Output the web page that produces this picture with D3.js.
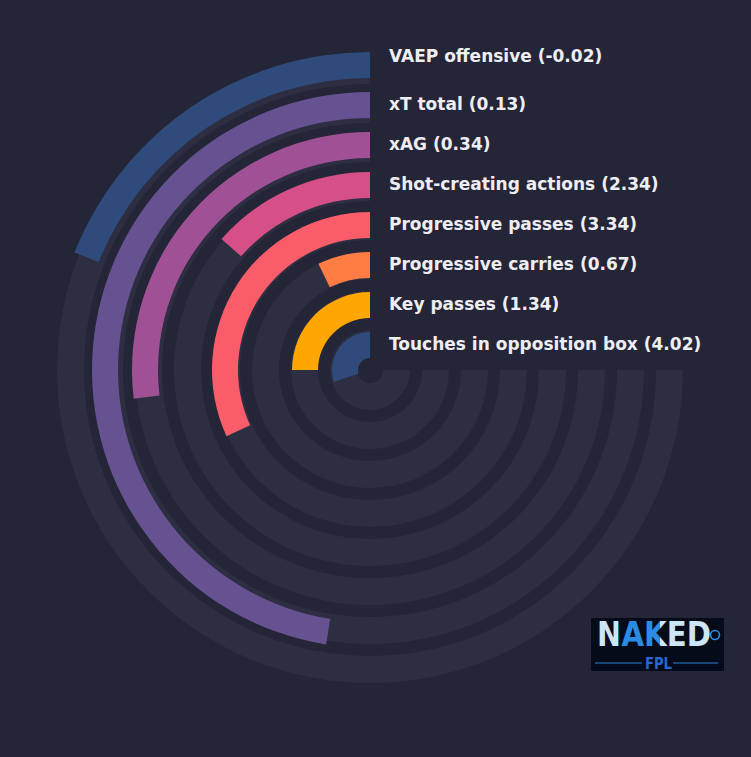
<!DOCTYPE html>
<html>
<head>
<meta charset="utf-8">
<script src="https://cdn.jsdelivr.net/npm/d3@7"></script>
<style>
  html, body { margin: 0; padding: 0; background: #252538; }
  svg { display: block; }
</style>
</head>
<body>
<svg id="chart" width="751" height="757"></svg>
<script>
// metrics listed from outer ring to inner ring
const metrics = [
  "VAEP offensive",
  "xT total",
  "xAG",
  "Shot-creating actions",
  "Progressive passes",
  "Progressive carries",
  "Key passes",
  "Touches in opposition box"
];
const values = [-0.02, 0.13, 0.34, 2.34, 3.34, 0.67, 1.34, 4.02];
// percentile rank used for the length of each bar
const percentiles = [25.3, 63.3, 35.9, 18, 42.5, 9.6, 33.3, 40];
const colors = ["#2f4b7c", "#665191", "#a05195", "#d45087", "#f95d6a", "#ff7c43", "#ffa600", "#2f4b7c"];

const width = 751, height = 757;
const cx = 370, cy = 370;
const bg = "#252538", trackColor = "#2e2e43";

const svg = d3.select("#chart");
svg.append("rect").attr("width", width).attr("height", height).attr("fill", bg);

const g = svg.append("g").attr("transform", `translate(${cx},${cy})`);

// ring index 0 is innermost
const ringIdx = metrics.map((d, j) => metrics.length - 1 - j);

const rBar = d3.scaleBand()
  .domain(d3.range(metrics.length))
  .range([12, 318])
  .paddingInner(0.35)
  .paddingOuter(0);

const rTrack = d3.scaleBand()
  .domain(d3.range(metrics.length))
  .range([13, 313])
  .paddingInner(12 / 39)
  .paddingOuter(0);

// the arc runs counter-clockwise from 12 o'clock over three quarters
const angle = d3.scaleLinear().domain([0, 100]).range([0, -1.5 * Math.PI]);

const arc = d3.arc();

g.selectAll("path.track")
  .data(metrics)
  .join("path")
  .attr("class", "track")
  .attr("fill", trackColor)
  .attr("d", (d, j) => arc({
    innerRadius: rTrack(ringIdx[j]),
    outerRadius: rTrack(ringIdx[j]) + rTrack.bandwidth(),
    startAngle: angle(100),
    endAngle: 0
  }));

g.selectAll("path.bar")
  .data(metrics)
  .join("path")
  .attr("class", "bar")
  .attr("fill", (d, j) => colors[j])
  .attr("d", (d, j) => arc({
    innerRadius: rBar(ringIdx[j]),
    outerRadius: rBar(ringIdx[j]) + rBar.bandwidth(),
    startAngle: angle(percentiles[j]),
    endAngle: 0
  }));

// labels to the right of the bar ends
g.selectAll("text.label")
  .data(metrics)
  .join("text")
  .attr("class", "label")
  .attr("x", 19)
  .attr("y", (d, j) => -(rBar(ringIdx[j]) + rBar.bandwidth() / 2) - 1 - (j === 0 ? 8 : 0))
  .attr("dominant-baseline", "central")
  .attr("fill", "#eeeef2")
  .attr("font-family", "DejaVu Sans, sans-serif")
  .attr("font-weight", "bold")
  .attr("font-size", 17)
  .text((d, j) => `${d} (${values[j].toFixed(2)})`);

// logo
const logo = svg.append("g").attr("transform", "translate(591,618)");
logo.append("rect").attr("width", 133).attr("height", 53).attr("fill", "#060b19");

// light letters with the "A" picked out in blue
const grad = svg.append("defs").append("linearGradient")
  .attr("id", "logoFill")
  .attr("gradientUnits", "userSpaceOnUse")
  .attr("x1", 0).attr("x2", 133).attr("y1", 0).attr("y2", 0);
[[0, "#cde6f6"], [27 / 133, "#cde6f6"], [27 / 133, "#2a8ce6"],
 [69 / 133, "#2a8ce6"], [69 / 133, "#cde6f6"], [1, "#cde6f6"]]
  .forEach(([o, c]) => grad.append("stop").attr("offset", o).attr("stop-color", c));

logo.append("text")
  .attr("x", 6).attr("y", 28)
  .attr("font-family", "DejaVu Sans, sans-serif")
  .attr("font-weight", "bold")
  .attr("font-size", 33)
  .attr("textLength", 114)
  .attr("lengthAdjust", "spacingAndGlyphs")
  .attr("fill", "url(#logoFill)")
  .text("NAKED");

logo.append("circle").attr("cx", 124).attr("cy", 17).attr("r", 4.5)
  .attr("fill", "none").attr("stroke", "#2a8ce6").attr("stroke-width", 1.6);
logo.append("line").attr("x1", 4).attr("x2", 51).attr("y1", 45).attr("y2", 45)
  .attr("stroke", "#2a7fd4").attr("stroke-width", 1);
logo.append("line").attr("x1", 82).attr("x2", 127).attr("y1", 45).attr("y2", 45)
  .attr("stroke", "#2a7fd4").attr("stroke-width", 1);
logo.append("text")
  .attr("x", 54).attr("y", 51)
  .attr("font-family", "DejaVu Sans, sans-serif")
  .attr("font-weight", "bold")
  .attr("font-size", 16)
  .attr("textLength", 27)
  .attr("lengthAdjust", "spacingAndGlyphs")
  .attr("fill", "#2468d0")
  .text("FPL");
</script>
</body>
</html>
